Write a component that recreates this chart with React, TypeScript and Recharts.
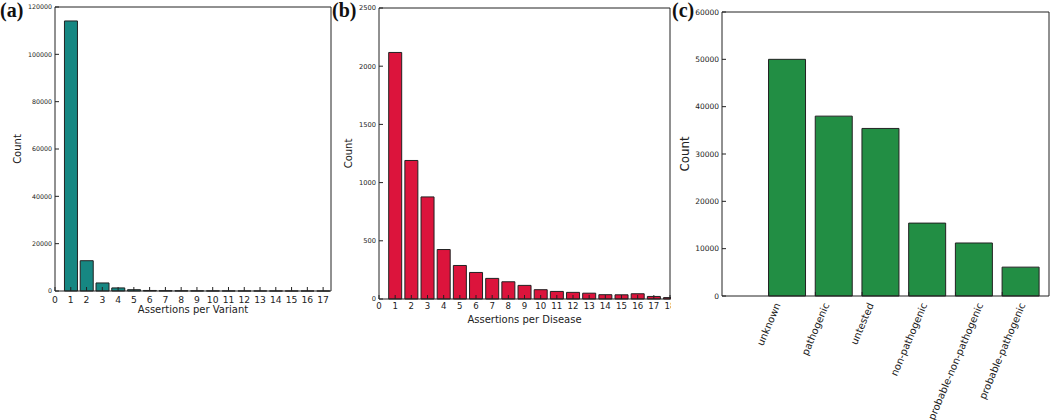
import React from "react";
import { BarChart, Bar, XAxis, YAxis, Rectangle } from "recharts";

const FONT = "DejaVu Sans";
const INK = "#222";

// (a) assertions per variant
const variantTicks = [0, 1, 2, 3, 4, 5, 6, 7, 8, 9, 10, 11, 12, 13, 14, 15, 16, 17];
const variantCounts = [114100, 12800, 3400, 1300, 550, 220, 120, 80, 60, 40, 30, 25, 20, 15, 10, 10, 5];
const variantYTicks = [0, 20000, 40000, 60000, 80000, 100000, 120000];

// (b) assertions per disease
const diseaseTicks = [0, 1, 2, 3, 4, 5, 6, 7, 8, 9, 10, 11, 12, 13, 14, 15, 16, 17, 18];
const diseaseCounts = [2118, 1190, 877, 425, 288, 228, 177, 148, 117, 80, 65, 57, 50, 37, 36, 45, 22, 12];
const diseaseYTicks = [0, 500, 1000, 1500, 2000, 2500];

// (c) clinical significance
const classNames = ["unknown", "pathogenic", "untested", "non-pathogenic", "probable-non-pathogenic", "probable-pathogenic"];
const classCounts = [50000, 38000, 35400, 15400, 11200, 6100];
const classYTicks = [0, 10000, 20000, 30000, 40000, 50000, 60000];

const variantData = variantCounts.map((count, i) => ({ n: i + 1, count }));
const diseaseData = diseaseCounts.map((count, i) => ({ n: i + 1, count }));
const classData = classCounts.map((count, i) => ({ pos: i + 1, name: classNames[i], count }));

const ctx = typeof document !== "undefined" ? document.createElement("canvas").getContext("2d") : null;
const textWidth = (s: string, size: number) => {
  if (!ctx) return s.length * size * 0.6;
  ctx.font = `${size}px "${FONT}"`;
  return ctx.measureText(s).width;
};

const yTitle = (offset: number, size: number) => (props: any) => {
  const vb = props.viewBox;
  const x = vb.x + offset;
  const y = vb.y + vb.height / 2;
  return (
    <text x={x} y={y} transform={`rotate(-90, ${x}, ${y})`} textAnchor="middle" dominantBaseline="central"
      fontSize={size} fontFamily={FONT} fill={INK}>
      Count
    </text>
  );
};

const xTitle = (text: string, baseline: number) => (props: any) => {
  const vb = props.viewBox;
  return (
    <text x={vb.x + vb.width / 2} y={vb.y + baseline} textAnchor="middle" fontSize={10} fontFamily={FONT} fill={INK}>
      {text}
    </text>
  );
};

const RotatedTick = (props: any) => {
  const { x, y, payload } = props;
  const label = classNames[payload.value - 1];
  if (!label) return null;
  const size = 10;
  const a = (67 * Math.PI) / 180;
  const w = textWidth(label, size);
  const h = size * 1.16;
  const bh = w * Math.sin(a) + h * Math.cos(a);
  return (
    <text x={0} y={0} transform={`translate(${x}, ${y + bh / 2}) rotate(-67)`} textAnchor="middle"
      dominantBaseline="central" fontSize={size} fontFamily={FONT} fill={INK}>
      {label}
    </text>
  );
};

const EdgeBar = (props: any) => <Rectangle {...props} x={props.x + props.width / 2} />;

const panelLabel = (text: string, left: number) => (
  <div style={{ position: "absolute", left, top: 0, fontFamily: "Liberation Serif", fontWeight: "bold", fontSize: 20, lineHeight: "20px", color: "#111" }}>
    {text}
  </div>
);

const VariantPanel = () => (
  <div style={{ position: "absolute", left: 0, top: 0 }}>
    <BarChart width={340} height={320} data={variantData} margin={{ top: 6, right: 8, bottom: 0, left: 0 }}>
      <Bar dataKey="count" fill="#168782" stroke={INK} strokeWidth={1} isAnimationActive={false} />
      <XAxis dataKey="n" type="number" domain={[0, 17.5]} ticks={variantTicks} interval={0} height={29}
        tickSize={-4} tickMargin={9} stroke={INK} tick={{ fontSize: 9.2, fill: INK, fontFamily: FONT }}
        label={xTitle("Assertions per Variant", 21.5)} />
      <XAxis xAxisId="t" orientation="top" dataKey="n" type="number" domain={[0, 17.5]} ticks={variantTicks}
        interval={0} height={1} tickSize={-4} tick={false} stroke={INK} />
      <YAxis type="number" domain={[0, 120000]} ticks={variantYTicks} interval={0} width={55} tickSize={-4}
        tickMargin={7} stroke={INK} tick={{ fontSize: 6.3, fill: INK, fontFamily: FONT }} label={yTitle(17, 10)} />
      <YAxis yAxisId="r" orientation="right" type="number" domain={[0, 120000]} ticks={variantYTicks} interval={0}
        width={1} tickSize={-4} tick={false} stroke={INK} />
    </BarChart>
  </div>
);

const DiseasePanel = () => (
  <div style={{ position: "absolute", left: 340, top: 0 }}>
    <BarChart width={332} height={330} data={diseaseData} margin={{ top: 7, right: 1, bottom: 0, left: 0 }}>
      <Bar dataKey="count" fill="#dc143c" stroke={INK} strokeWidth={1} isAnimationActive={false} />
      <XAxis dataKey="n" type="number" domain={[0, 18]} ticks={diseaseTicks} interval={0} height={31}
        tickSize={-4} tickMargin={8} stroke={INK} tick={{ fontSize: 8.6, fill: INK, fontFamily: FONT }}
        label={xTitle("Assertions per Disease", 23.5)} />
      <XAxis xAxisId="t" orientation="top" dataKey="n" type="number" domain={[0, 18]} ticks={diseaseTicks}
        interval={0} height={1} tickSize={-4} tick={false} stroke={INK} />
      <YAxis type="number" domain={[0, 2500]} ticks={diseaseYTicks} interval={0} width={39} tickSize={-4}
        tickMargin={7} stroke={INK} tick={{ fontSize: 6.7, fill: INK, fontFamily: FONT }} label={yTitle(8, 10)} />
      <YAxis yAxisId="r" orientation="right" type="number" domain={[0, 2500]} ticks={diseaseYTicks} interval={0}
        width={1} tickSize={-4} tick={false} stroke={INK} />
    </BarChart>
  </div>
);

const classTicks = classData.map((d) => d.pos);

const ClassPanel = () => (
  <div style={{ position: "absolute", left: 671, top: 0, background: "#fff" }}>
    <BarChart width={379} height={420} data={classData} margin={{ top: 11, right: 0, bottom: 0, left: 0 }}>
      <Bar dataKey="count" fill="#228e44" stroke={INK} strokeWidth={1} shape={EdgeBar} isAnimationActive={false} />
      <XAxis dataKey="pos" type="number" domain={[0, 7]} ticks={classTicks} interval={0} height={124}
        tickSize={-4} tickMargin={9} stroke={INK} tick={<RotatedTick />} />
      <XAxis xAxisId="t" orientation="top" dataKey="pos" type="number" domain={[0, 7]} ticks={classTicks}
        interval={0} height={1} tickSize={-4} tick={false} stroke={INK} />
      <YAxis type="number" domain={[0, 60000]} ticks={classYTicks} interval={0} width={51} tickSize={-4}
        tickMargin={7} stroke={INK} tick={{ fontSize: 7.5, fill: INK, fontFamily: FONT }} label={yTitle(14, 11.8)} />
      <YAxis yAxisId="r" orientation="right" type="number" domain={[0, 60000]} ticks={classYTicks} interval={0}
        width={1} tickSize={-4} tick={false} stroke={INK} />
    </BarChart>
  </div>
);

export default function App() {
  return (
    <div style={{ position: "absolute", left: 0, top: 0, width: 1050, height: 420, background: "#fff", overflow: "hidden" }}>
      <VariantPanel />
      <DiseasePanel />
      <ClassPanel />
      {panelLabel("(a)", 0)}
      {panelLabel("(b)", 332)}
      {panelLabel("(c)", 672)}
    </div>
  );
}
